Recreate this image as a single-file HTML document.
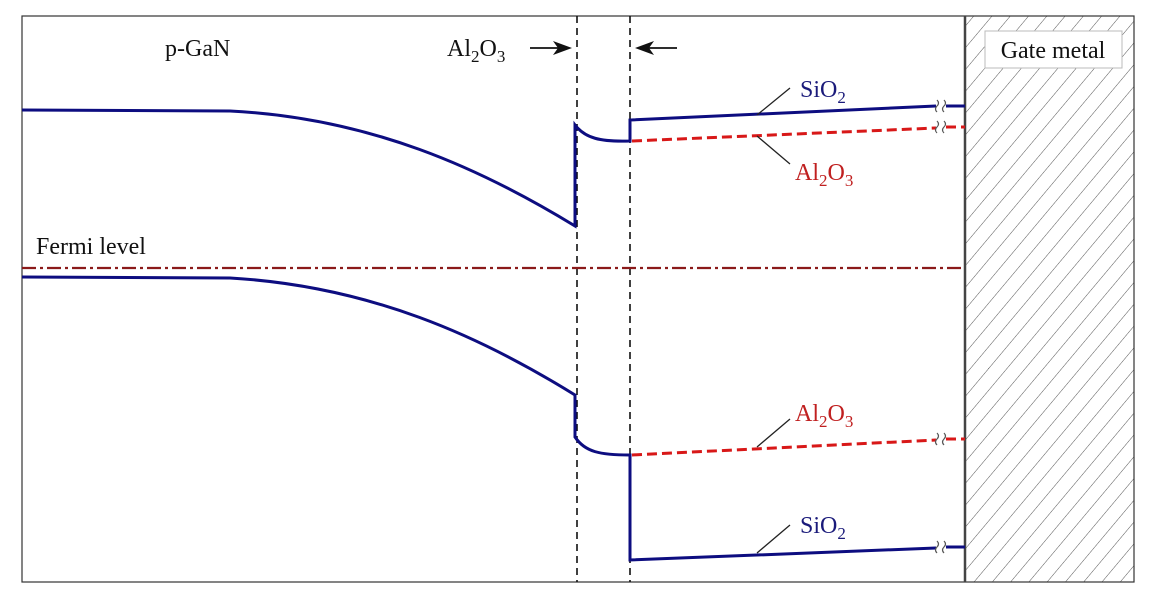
<!DOCTYPE html>
<html><head><style>
html,body{margin:0;padding:0;background:#fff;}
svg{display:block;font-family:"Liberation Serif",serif;}
</style></head><body>
<svg width="1156" height="606" viewBox="0 0 1156 606" xmlns="http://www.w3.org/2000/svg">
<defs>
<pattern id="h" width="14" height="14" patternUnits="userSpaceOnUse" patternTransform="rotate(40)">
<line x1="0" y1="0" x2="0" y2="14" stroke="#555" stroke-width="1"/>
</pattern>
</defs>
<rect x="0" y="0" width="1156" height="606" fill="#fff"/>
<rect x="965" y="16" width="169" height="566" fill="url(#h)"/>
<rect x="22" y="16" width="1112" height="566" fill="none" stroke="#333" stroke-width="1.2"/>
<line x1="965" y1="16" x2="965" y2="582" stroke="#444" stroke-width="2.5"/>
<rect x="985" y="31" width="137" height="37" fill="#fff" stroke="#bbb" stroke-width="1"/>
<text x="1053" y="58" font-size="24" text-anchor="middle" fill="#111">Gate metal</text>

<line x1="577" y1="16" x2="577" y2="582" stroke="#111" stroke-width="1.6" stroke-dasharray="7,5"/>
<line x1="630" y1="16" x2="630" y2="582" stroke="#111" stroke-width="1.6" stroke-dasharray="7,5"/>

<line x1="530" y1="48" x2="560" y2="48" stroke="#111" stroke-width="1.8"/>
<path d="M572,48 L553,41 L558,48 L553,55 Z" fill="#111"/>
<line x1="677" y1="48" x2="647" y2="48" stroke="#111" stroke-width="1.8"/>
<path d="M635,48 L654,41 L649,48 L654,55 Z" fill="#111"/>

<text x="165" y="56" font-size="24" fill="#111">p-GaN</text>
<text x="447" y="56" font-size="24" fill="#111">Al<tspan font-size="17" dy="6">2</tspan><tspan dy="-6">O</tspan><tspan font-size="17" dy="6">3</tspan></text>
<text x="36" y="254" font-size="24" fill="#111">Fermi level</text>

<line x1="22" y1="268" x2="965" y2="268" stroke="#8b1a1a" stroke-width="2.2" stroke-dasharray="14,4,3,4"/>

<g fill="none" stroke="#0d0d80" stroke-width="3">
<path d="M22,110 L230,111 C370,118 480,168 575,226 L575,125 C585,138 600,142 630,141 L630,120 L936,106"/>
<line x1="946" y1="106" x2="965" y2="106"/>
<path d="M22,277 L230,278 C370,286 480,336 575,395 L575,437 C585,452 600,455 630,455 L630,560 L936,548"/>
<line x1="946" y1="547" x2="965" y2="547"/>
</g>
<g fill="none" stroke="#d81818" stroke-width="3" stroke-dasharray="10,5">
<path d="M632,141 L936,128"/>
<path d="M632,455 L936,440"/>
</g>
<line x1="946" y1="127" x2="965" y2="127" stroke="#d81818" stroke-width="3" stroke-dasharray="10,5"/>
<line x1="946" y1="439" x2="965" y2="439" stroke="#d81818" stroke-width="3" stroke-dasharray="10,5"/>
<g fill="#fff" stroke="#555" stroke-width="1.2">
<path d="M937,100 q3,3 0,6 q-3,3 0,6 M944,100 q3,3 0,6 q-3,3 0,6"/>
<path d="M937,121 q3,3 0,6 q-3,3 0,6 M944,121 q3,3 0,6 q-3,3 0,6"/>
<path d="M937,433 q3,3 0,6 q-3,3 0,6 M944,433 q3,3 0,6 q-3,3 0,6"/>
<path d="M937,541 q3,3 0,6 q-3,3 0,6 M944,541 q3,3 0,6 q-3,3 0,6"/>
</g>

<g stroke="#222" stroke-width="1.3">
<line x1="757" y1="115" x2="790" y2="88"/>
<line x1="757" y1="136" x2="790" y2="164"/>
<line x1="757" y1="447" x2="790" y2="419"/>
<line x1="757" y1="553" x2="790" y2="525"/>
</g>
<text x="800" y="97" font-size="24" fill="#1a1a7a">SiO<tspan font-size="17" dy="6">2</tspan></text>
<text x="795" y="180" font-size="24" fill="#c02020">Al<tspan font-size="17" dy="6">2</tspan><tspan dy="-6">O</tspan><tspan font-size="17" dy="6">3</tspan></text>
<text x="795" y="421" font-size="24" fill="#c02020">Al<tspan font-size="17" dy="6">2</tspan><tspan dy="-6">O</tspan><tspan font-size="17" dy="6">3</tspan></text>
<text x="800" y="533" font-size="24" fill="#1a1a7a">SiO<tspan font-size="17" dy="6">2</tspan></text>
</svg>
</body></html>
